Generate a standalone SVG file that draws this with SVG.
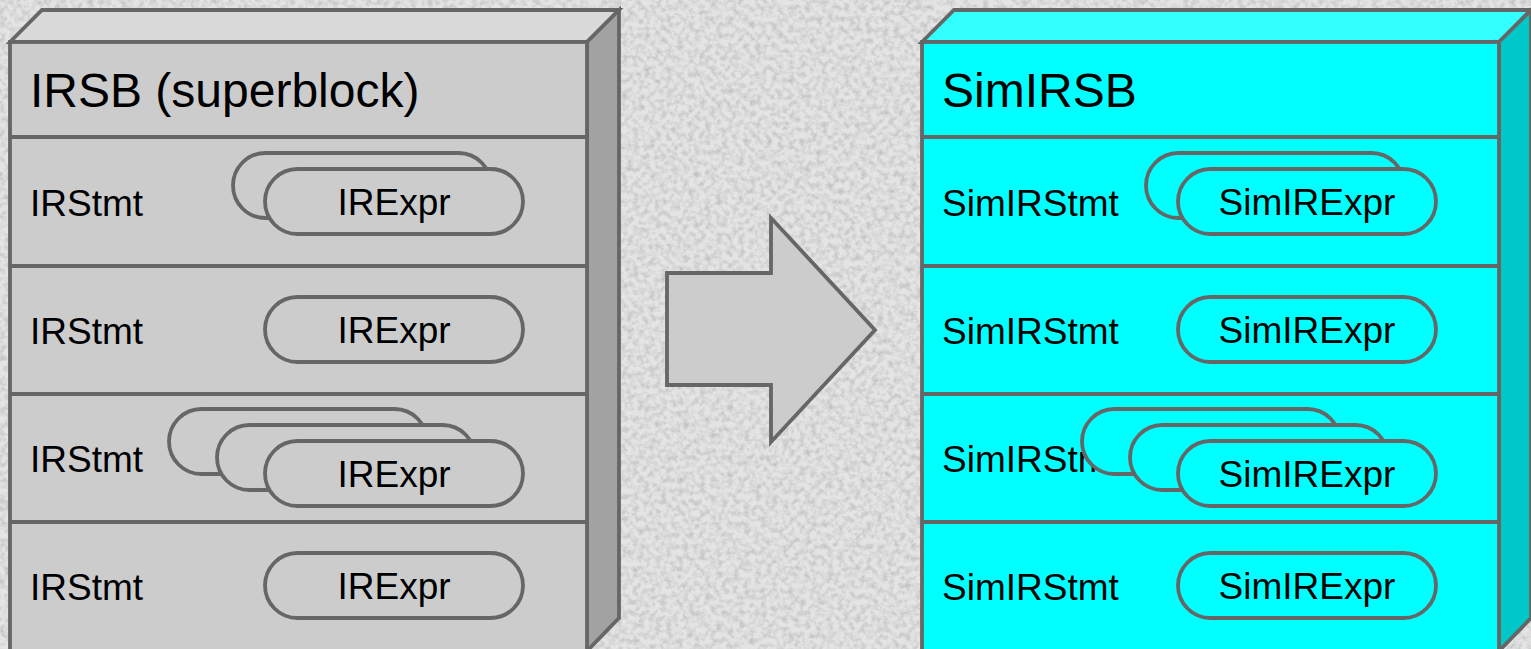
<svg xmlns="http://www.w3.org/2000/svg" width="1531" height="649" viewBox="0 0 1531 649">
  <defs>
    <filter id="grain" x="0" y="0" width="100%" height="100%">
      <feTurbulence type="fractalNoise" baseFrequency="0.18" numOctaves="3" seed="7" result="n"/>
      <feColorMatrix in="n" type="matrix" values="0 0 0 0 0  0 0 0 0 0  0 0 0 0 0  0.9 0 0 0 -0.35" result="dark"/>
      <feComposite in="dark" in2="SourceGraphic" operator="in"/>
    </filter>
    <!-- a stadium-shaped expression pill, 258 x 65 -->
    <rect id="pill" x="0" y="0" width="258" height="65" rx="32.5" ry="32.5"/>
  </defs>
  <style>
    .edge { stroke: #666666; stroke-width: 3.8; stroke-linejoin: miter; }
    .grey .front, .grey .pill { fill: #cccccc; }
    .grey .top { fill: #d9d9d9; }
    .grey .side { fill: #a2a2a2; }
    .cyan .front, .cyan .pill { fill: #00ffff; }
    .cyan .top { fill: #33ffff; }
    .cyan .side { fill: #00c8c8; }
    .title { font-family: "Liberation Sans", Arial, sans-serif; font-size: 48px; fill: #000; }
    .lbl { font-family: "Liberation Sans", Arial, sans-serif; font-size: 37px; fill: #000; }
    .mid { text-anchor: middle; }
  </style>

  <!-- textured backdrop -->
  <rect width="1531" height="649" fill="#e4e4e4"/>
  <rect width="1531" height="649" fill="#000" filter="url(#grain)" opacity="0.35"/>

  <!-- IRSB block -->
  <g id="irsb" class="grey">
    <polygon class="top edge" points="10,42 42,10 619,10 587,42"/>
    <polygon class="side edge" points="587,42 619,10 619,618 587,651"/>
    <rect class="front edge" x="10" y="42" width="577" height="610"/>
    <line class="edge" x1="10" y1="137" x2="587" y2="137"/>
    <line class="edge" x1="10" y1="266" x2="587" y2="266"/>
    <line class="edge" x1="10" y1="394" x2="587" y2="394"/>
    <line class="edge" x1="10" y1="522" x2="587" y2="522"/>
    <text class="title" x="30" y="107">IRSB (superblock)</text>

    <g id="irsb-row1">
      <text class="lbl" x="30" y="216">IRStmt</text>
      <use href="#pill" class="pill edge" x="233" y="153"/>
      <use href="#pill" class="pill edge" x="265" y="169"/>
      <text class="lbl mid" x="394" y="215">IRExpr</text>
    </g>
    <g id="irsb-row2">
      <text class="lbl" x="30" y="344">IRStmt</text>
      <use href="#pill" class="pill edge" x="265" y="297"/>
      <text class="lbl mid" x="394" y="343">IRExpr</text>
    </g>
    <g id="irsb-row3">
      <text class="lbl" x="30" y="472">IRStmt</text>
      <use href="#pill" class="pill edge" x="169" y="409"/>
      <use href="#pill" class="pill edge" x="217" y="425"/>
      <use href="#pill" class="pill edge" x="265" y="441"/>
      <text class="lbl mid" x="394" y="487">IRExpr</text>
    </g>
    <g id="irsb-row4">
      <text class="lbl" x="30" y="600">IRStmt</text>
      <use href="#pill" class="pill edge" x="265" y="553"/>
      <text class="lbl mid" x="394" y="599">IRExpr</text>
    </g>
  </g>

  <!-- translation arrow -->
  <g id="connectors">
    <polygon id="lift-arrow" class="edge" fill="#cccccc" points="667,273 771,273 771,218 875,330 771,442 771,385 667,385"/>
  </g>

  <!-- SimIRSB block -->
  <g id="simirsb" class="cyan">
    <polygon class="top edge" points="922,42 954,10 1531,10 1499,42"/>
    <polygon class="side edge" points="1499,42 1531,10 1531,618 1499,651"/>
    <rect class="front edge" x="922" y="42" width="577" height="610"/>
    <line class="edge" x1="922" y1="137" x2="1499" y2="137"/>
    <line class="edge" x1="922" y1="266" x2="1499" y2="266"/>
    <line class="edge" x1="922" y1="394" x2="1499" y2="394"/>
    <line class="edge" x1="922" y1="522" x2="1499" y2="522"/>
    <text class="title" x="942" y="107">SimIRSB</text>

    <g id="simirsb-row1">
      <text class="lbl" x="942" y="216">SimIRStmt</text>
      <use href="#pill" class="pill edge" x="1146" y="153"/>
      <use href="#pill" class="pill edge" x="1178" y="169"/>
      <text class="lbl mid" x="1307" y="215">SimIRExpr</text>
    </g>
    <g id="simirsb-row2">
      <text class="lbl" x="942" y="344">SimIRStmt</text>
      <use href="#pill" class="pill edge" x="1178" y="297"/>
      <text class="lbl mid" x="1307" y="343">SimIRExpr</text>
    </g>
    <g id="simirsb-row3">
      <text class="lbl" x="942" y="472">SimIRStmt</text>
      <use href="#pill" class="pill edge" x="1082" y="409"/>
      <use href="#pill" class="pill edge" x="1130" y="425"/>
      <use href="#pill" class="pill edge" x="1178" y="441"/>
      <text class="lbl mid" x="1307" y="487">SimIRExpr</text>
    </g>
    <g id="simirsb-row4">
      <text class="lbl" x="942" y="600">SimIRStmt</text>
      <use href="#pill" class="pill edge" x="1178" y="553"/>
      <text class="lbl mid" x="1307" y="599">SimIRExpr</text>
    </g>
  </g>
</svg>
